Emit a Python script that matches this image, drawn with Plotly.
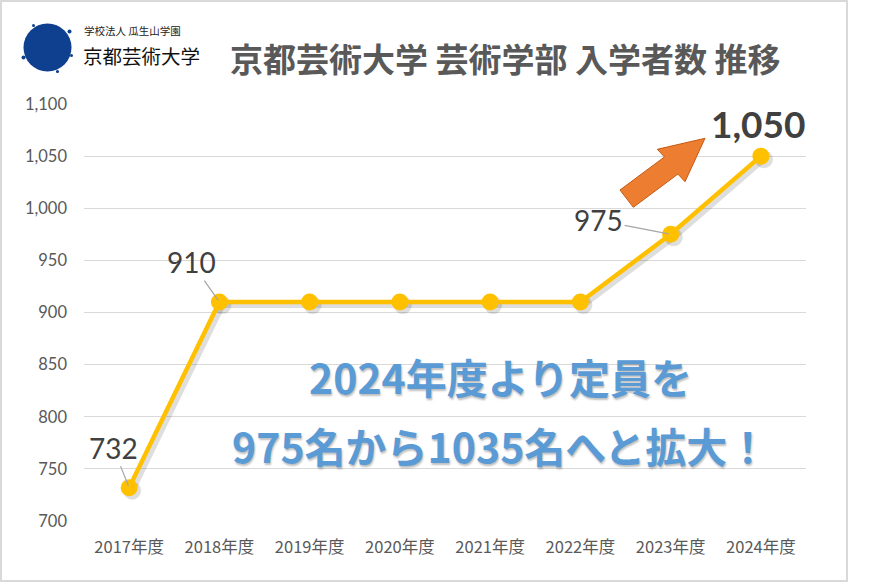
import plotly.graph_objects as go

# ---- data ----
years = ["2017年度", "2018年度", "2019年度", "2020年度", "2021年度", "2022年度", "2023年度", "2024年度"]
students = [732, 910, 910, 910, 910, 910, 975, 1050]
y_ticks = [700, 750, 800, 850, 900, 950, 1000, 1050, 1100]
labelled = {0: (-16, -40), 1: (-28, -40), 6: (-72, -14)}

title_text = "京都芸術大学 芸術学部 入学者数 推移"
note_lines = ["2024年度より定員を", "975名から1035名へと拡大！"]

W, H = 887, 586
ML, MR, MT, MB = 84, 81, 104, 65
PW, PH = W - ML - MR, H - MT - MB

def px(x):
    return (x - ML) / PW

def py(y):
    return (H - MB - y) / PH

JP = "Noto Sans CJK JP, Noto Sans, sans-serif"
NUM = "Lato, Open Sans, sans-serif"
GRAY = "#595959"
LINE = "#FFC000"

fig = go.Figure()

# invisible trace so the base axes (grid, ticks) are drawn
fig.add_trace(go.Scatter(x=years, y=students, mode="lines", line=dict(width=0, color="rgba(0,0,0,0)"),
                         hoverinfo="skip", showlegend=False))
# shadow on overlay axes x2/y2
d_x = 3 / (PW / 8)
d_y = 3 * 400 / PH
fig.add_trace(go.Scatter(
    x=years, y=students, xaxis="x2", yaxis="y2", mode="lines+markers",
    line=dict(color="rgba(0,0,0,0.13)", width=6),
    marker=dict(size=18, color="rgba(0,0,0,0.13)"),
    hoverinfo="skip", showlegend=False))
# main line on x3/y3
fig.add_trace(go.Scatter(
    x=years, y=students, xaxis="x3", yaxis="y3", mode="lines+markers",
    line=dict(color=LINE, width=4.5),
    marker=dict(size=17, color=LINE),
    showlegend=False))

common_x = dict(type="category", categoryorder="array", categoryarray=years)
fig.update_layout(
    width=W, height=H,
    margin=dict(l=ML, r=MR, t=MT, b=MB),
    paper_bgcolor="white", plot_bgcolor="white",
    xaxis=dict(**common_x, range=[-0.5, 7.5], showgrid=False, zeroline=False, showline=False,
               ticks="", tickfont=dict(family=JP, size=16.5, color=GRAY), ticklabelstandoff=14),
    yaxis=dict(range=[700, 1100], tickvals=y_ticks, tickformat=",", showgrid=True,
               gridcolor="#d9d9d9", gridwidth=1.3, zeroline=False, showline=False, ticks="",
               tickfont=dict(family=NUM, size=16.5, color=GRAY), ticklabelstandoff=16),
    xaxis2=dict(**common_x, range=[-0.5 - d_x, 7.5 - d_x], overlaying="x", visible=False),
    yaxis2=dict(range=[700 + d_y, 1100 + d_y], overlaying="y", visible=False),
    xaxis3=dict(**common_x, range=[-0.5, 7.5], overlaying="x", visible=False),
    yaxis3=dict(range=[700, 1100], overlaying="y", visible=False),
)

anns = []
for i, (ax, ay) in labelled.items():
    anns.append(dict(x=years[i], y=students[i], xref="x3", yref="y3", text=f"{students[i]:,}",
                     showarrow=True, arrowhead=0, arrowwidth=1.2, arrowcolor="#a6a6a6",
                     ax=ax, ay=ay, standoff=2,
                     font=dict(family=NUM, size=28, color="#404040")))
anns.append(dict(x=years[-1], y=students[-1], xref="x3", yref="y3", text=f"<b>{students[-1]:,}</b>",
                 showarrow=False, yshift=33, xshift=-2,
                 font=dict(family=NUM, size=37, color="#404040")))
# title
anns.append(dict(x=px(505), y=py(58), xref="paper", yref="paper", text=f"<b>{title_text}</b>",
                 showarrow=False, xanchor="center", yanchor="middle",
                 font=dict(family=JP, size=33, color=GRAY)))
# note
for t, yy in zip(note_lines, [376, 445]):
    anns.append(dict(x=px(500), y=py(yy), xref="paper", yref="paper", text=f"<b>{t}</b>",
                     showarrow=False, xanchor="center", yanchor="middle",
                     font=dict(family=JP, size=41, color="#5B9BD5",
                               shadow="1px 2px 2px rgba(0,0,0,0.25)")))
# logo text
anns.append(dict(x=px(82), y=py(31), xref="paper", yref="paper", text="学校法人 瓜生山学園",
                 showarrow=False, xanchor="left", yanchor="middle",
                 font=dict(family=JP, size=10.5, color="#222")))
anns.append(dict(x=px(81), y=py(55), xref="paper", yref="paper", text="京都芸術大学",
                 showarrow=False, xanchor="left", yanchor="middle",
                 font=dict(family=JP, size=19.5, color="#111")))
fig.update_layout(annotations=anns)

shapes = []
# outer frame
shapes.append(dict(type="rect", xref="paper", yref="paper", x0=px(1), x1=px(847), y0=py(581), y1=py(1),
                   line=dict(color="#d9d9d9", width=2), fillcolor="rgba(0,0,0,0)", layer="below"))
# logo blot
cx, cy, r = 47.5, 47.5, 24
shapes.append(dict(type="circle", xref="paper", yref="paper", x0=px(cx - r), x1=px(cx + r),
                   y0=py(cy + r), y1=py(cy - r), fillcolor="#0F3F8F", line=dict(width=0)))
for (dx, dy, rr) in [(22, -16, 2), (-24, 10, 2), (10, 24, 1.6), (-14, -22, 1.5), (24, 8, 1.5)]:
    shapes.append(dict(type="circle", xref="paper", yref="paper",
                       x0=px(cx + dx - rr), x1=px(cx + dx + rr), y0=py(cy + dy + rr), y1=py(cy + dy - rr),
                       fillcolor="#0F3F8F", line=dict(width=0)))
# orange block arrow
pts = [(620, 190), (664.5, 156.9), (657.3, 149.3), (705, 138.3), (685, 181.7), (677.9, 174.1), (633.3, 207.3)]
path = "M " + " L ".join(f"{px(a):.5f},{py(b):.5f}" for a, b in pts) + " Z"
shapes.append(dict(type="path", xref="paper", yref="paper", path=path,
                   fillcolor="#ED7D31", line=dict(color="#C55A11", width=1)))
fig.update_layout(shapes=shapes)

fig.write_html("out.html", config={"displayModeBar": False},
               post_script="document.body.style.margin='0';")
